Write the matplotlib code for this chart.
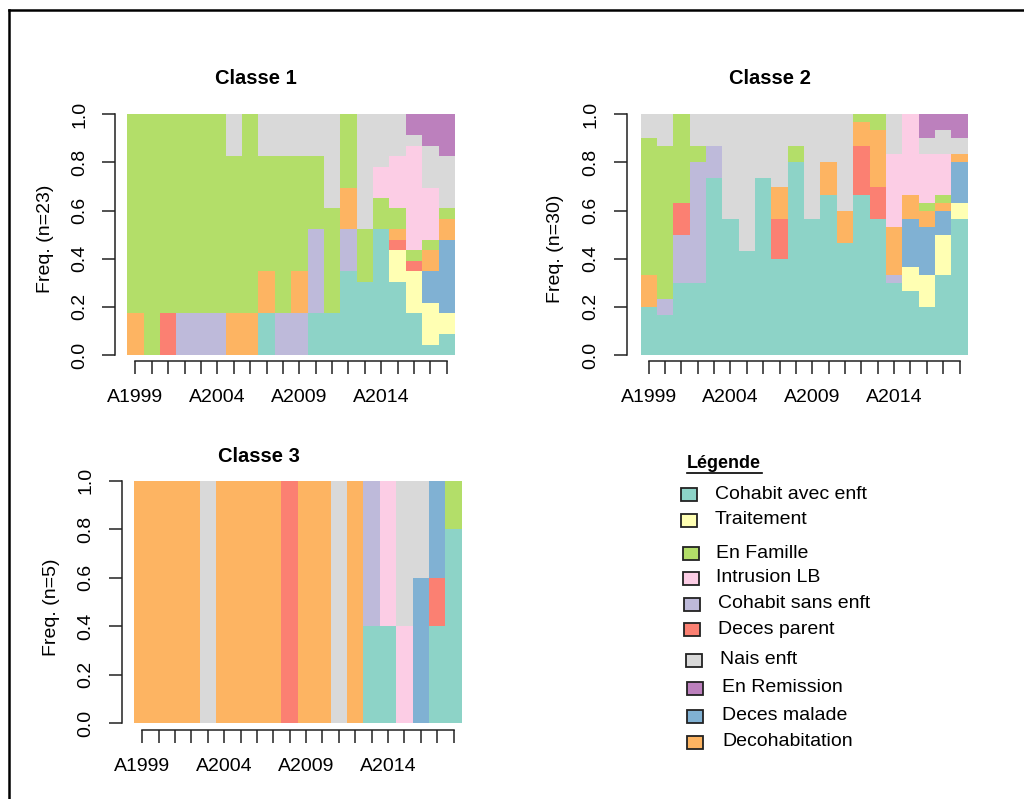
import matplotlib
matplotlib.use("Agg")
import matplotlib.pyplot as plt
import numpy as np
from matplotlib.patches import Rectangle
from matplotlib.lines import Line2D

plt.rcParams['font.family'] = ['Liberation Sans', 'DejaVu Sans']

# ---------------- data ----------------
years = [f"A{y}" for y in range(1999, 2019)]
shown_labels = ["A1999", "A2004", "A2009", "A2014"]

# stacking order (bottom -> top)
states = ["Cohabit avec enft", "Traitement", "Cohabit sans enft", "Deces parent",
          "Deces malade", "Decohabitation", "En Famille", "Intrusion LB",
          "Nais enft", "En Remission"]
state_colors = ["#8DD3C7", "#FFFFB3", "#BEBADA", "#FB8072", "#80B1D3",
                "#FDB462", "#B3DE69", "#FCCDE5", "#D9D9D9", "#BC80BD"]

legend_order = ["Cohabit avec enft", "Traitement", "En Famille", "Intrusion LB",
                "Cohabit sans enft", "Deces parent", "Nais enft", "En Remission",
                "Deces malade", "Decohabitation"]

# counts of individuals per state and year
n1 = 23
c1_cohabit_avec = [0,0,0,0,0,0,0,0,4,0,0,4,4,8,7,12,7,4,1,2]
c1_traitement   = [0,0,0,0,0,0,0,0,0,0,0,0,0,0,0,0,3,4,4,2]
c1_cohabit_sans = [0,0,0,4,4,4,0,0,0,4,4,8,0,4,0,0,0,0,0,0]
c1_deces_parent = [0,0,4,0,0,0,0,0,0,0,0,0,0,0,0,0,1,1,0,0]
c1_deces_malade = [0,0,0,0,0,0,0,0,0,0,0,0,0,0,0,0,0,0,3,7]
c1_decohab      = [4,0,0,0,0,0,4,4,4,0,4,0,0,4,0,0,1,0,2,2]
c1_famille      = [19,23,19,19,19,19,15,19,11,15,11,7,10,7,5,3,2,1,1,1]
c1_intrusion    = [0,0,0,0,0,0,0,0,0,0,0,0,0,0,0,3,5,10,5,0]
c1_nais         = [0,0,0,0,0,0,4,0,4,4,4,4,9,0,11,5,4,1,4,5]
c1_remission    = [0,0,0,0,0,0,0,0,0,0,0,0,0,0,0,0,0,2,3,4]

n2 = 30
c2_cohabit_avec = [6,5,9,9,22,17,13,22,12,24,17,20,14,20,17,9,8,6,10,17]
c2_traitement   = [0,0,0,0,0,0,0,0,0,0,0,0,0,0,0,0,3,4,5,2]
c2_cohabit_sans = [0,2,6,15,4,0,0,0,0,0,0,0,0,0,0,1,0,0,0,0]
c2_deces_parent = [0,0,4,0,0,0,0,0,5,0,0,0,0,6,4,0,0,0,0,0]
c2_deces_malade = [0,0,0,0,0,0,0,0,0,0,0,0,0,0,0,0,6,6,3,5]
c2_decohab      = [4,0,0,0,0,0,0,0,4,0,0,4,4,3,7,6,3,2,1,1]
c2_famille      = [17,19,11,2,0,0,0,0,0,2,0,0,0,1,2,0,0,1,1,0]
c2_intrusion    = [0,0,0,0,0,0,0,0,0,0,0,0,0,0,0,9,10,6,5,0]
c2_nais         = [3,4,0,4,4,13,17,8,9,4,13,6,12,0,0,5,0,2,3,2]
c2_remission    = [0,0,0,0,0,0,0,0,0,0,0,0,0,0,0,0,0,3,2,3]

n3 = 5
c3_cohabit_avec = [0,0,0,0,0,0,0,0,0,0,0,0,0,0,2,2,0,0,2,4]
c3_traitement   = [0]*20
c3_cohabit_sans = [0,0,0,0,0,0,0,0,0,0,0,0,0,0,3,0,0,0,0,0]
c3_deces_parent = [0,0,0,0,0,0,0,0,0,5,0,0,0,0,0,0,0,0,1,0]
c3_deces_malade = [0,0,0,0,0,0,0,0,0,0,0,0,0,0,0,0,0,3,2,0]
c3_decohab      = [5,5,5,5,0,5,5,5,5,0,5,5,0,5,0,0,0,0,0,0]
c3_famille      = [0,0,0,0,0,0,0,0,0,0,0,0,0,0,0,0,0,0,0,1]
c3_intrusion    = [0,0,0,0,0,0,0,0,0,0,0,0,0,0,0,3,2,0,0,0]
c3_nais         = [0,0,0,0,5,0,0,0,0,0,0,0,5,0,0,0,3,2,0,0]
c3_remission    = [0]*20

class1 = [c1_cohabit_avec, c1_traitement, c1_cohabit_sans, c1_deces_parent, c1_deces_malade,
          c1_decohab, c1_famille, c1_intrusion, c1_nais, c1_remission]
class2 = [c2_cohabit_avec, c2_traitement, c2_cohabit_sans, c2_deces_parent, c2_deces_malade,
          c2_decohab, c2_famille, c2_intrusion, c2_nais, c2_remission]
class3 = [c3_cohabit_avec, c3_traitement, c3_cohabit_sans, c3_deces_parent, c3_deces_malade,
          c3_decohab, c3_famille, c3_intrusion, c3_nais, c3_remission]

# ---------------- figure ----------------
W, H = 1024, 799
fig = plt.figure(figsize=(W/100, H/100), dpi=100)

def fx(x): return x / W
def fy(y): return 1 - y / H
def pt(p): return p * 0.72

FS = 14

def panel(box, counts, n, title, title_xy, ylab_xy, yoff, xoff):
    x0, y0, x1, y1 = box
    ax = fig.add_axes([fx(x0), fy(y1), (x1 - x0) / W, (y1 - y0) / H])
    data = np.array(counts, dtype=float) / n
    xs = np.arange(len(years)) + 0.5
    bottom = np.zeros(len(years))
    for vals, col in zip(data, state_colors):
        ax.bar(xs, vals, width=1.0, bottom=bottom, color=col, edgecolor='none',
               linewidth=0)
        bottom += vals
    ax.set_xlim(0, len(years))
    ax.set_ylim(0, 1)
    for s in ['top', 'right']:
        ax.spines[s].set_visible(False)
    ax.spines['left'].set_position(('outward', pt(yoff)))
    ax.spines['left'].set_bounds(0, 1)
    ax.spines['bottom'].set_position(('outward', pt(xoff)))
    ax.spines['bottom'].set_bounds(xs[0], xs[-1])
    for s in ['left', 'bottom']:
        ax.spines[s].set_linewidth(1.1)
        ax.spines[s].set_color('#222222')
    ax.set_yticks([0, 0.2, 0.4, 0.6, 0.8, 1.0])
    ax.set_yticklabels(["0.0", "0.2", "0.4", "0.6", "0.8", "1.0"])
    ax.set_xticks(xs)
    ax.set_xticklabels([y if y in shown_labels else "" for y in years])
    ax.tick_params(axis='both', length=pt(13), width=1.1, color='#222222',
                   labelsize=FS, direction='out')
    ax.tick_params(axis='y', labelrotation=90, pad=pt(14))
    ax.tick_params(axis='x', pad=pt(15))
    for lab in ax.get_yticklabels():
        lab.set_va('center')
    ax.patch.set_alpha(0)
    fig.text(fx(title_xy[0]), fy(title_xy[1]), title, fontsize=14.5,
             fontweight='bold', ha='center', va='center')
    fig.text(fx(ylab_xy[0]), fy(ylab_xy[1]), f"Freq. (n={n})", fontsize=FS,
             rotation=90, ha='center', va='center')
    return ax

panel((127.3, 114.3, 455, 355), class1, n1, "Classe 1", (256, 78), (46, 239), 12.3, 6)
panel((640.5, 114.3, 967.7, 355), class2, n2, "Classe 2", (770, 78), (556, 249), 13.8, 6)
panel((134, 480.7, 461.7, 723.3), class3, n3, "Classe 3", (258.5, 457), (51, 607), 12.3, 6.7)

# ---------------- legend ----------------
fig.text(fx(687), fy(464), "Légende", fontsize=13, fontweight='bold',
         ha='left', va='center')
fig.add_artist(Line2D([fx(687), fx(762)], [fy(473), fy(473)], color='black', lw=1.2))

leg_y = [494, 520, 553, 578, 604, 629, 660, 688, 716, 742]
leg_sq_x = [681, 681, 683, 683, 684, 684, 686, 687, 687, 687]
leg_tx_x = [715, 715, 716, 716, 718, 718, 720, 722, 722, 722]
for name, yy, sx, tx in zip(legend_order, leg_y, leg_sq_x, leg_tx_x):
    col = state_colors[states.index(name)]
    fig.add_artist(Rectangle((fx(sx), fy(yy + 7)), 16 / W, 13 / H, facecolor=col,
                             edgecolor='#222222', lw=1.3, transform=fig.transFigure))
    fig.text(fx(tx), fy(yy), name, fontsize=FS, ha='left', va='center')

# ---------------- outer frame ----------------
fig.add_artist(Line2D([fx(9), fx(9)], [fy(9.5), 0], color='black', lw=1.8))
fig.add_artist(Line2D([fx(9), 1], [fy(9.5), fy(9.5)], color='black', lw=1.8))

fig.savefig("out.png", dpi=100)
